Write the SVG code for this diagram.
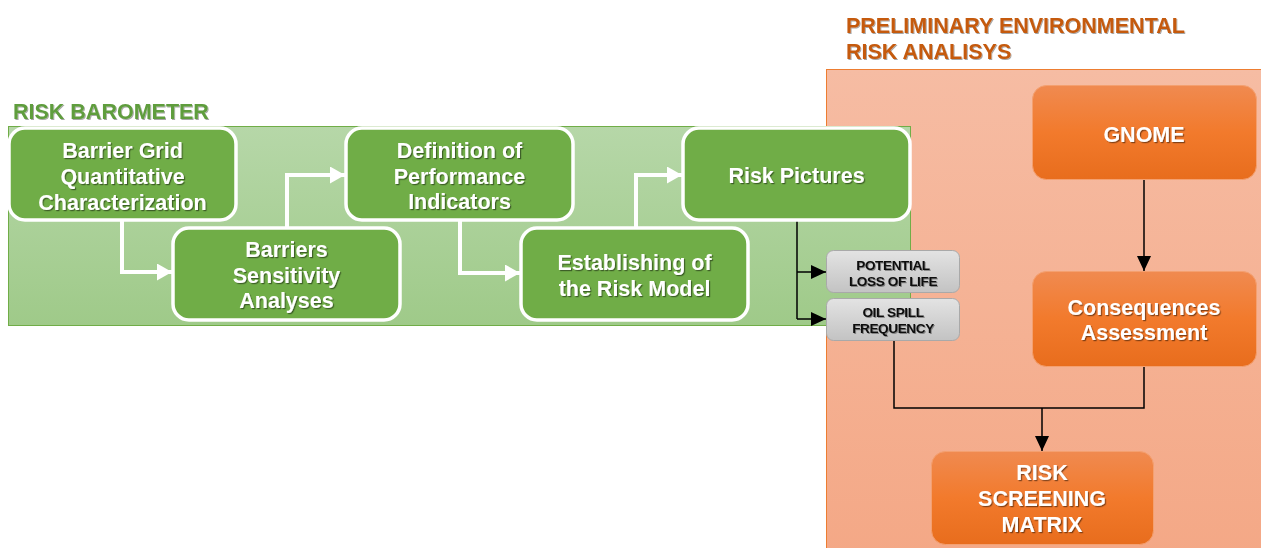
<svg xmlns="http://www.w3.org/2000/svg" width="1261" height="548" viewBox="0 0 1261 548">
<defs>
<linearGradient id="gOrangePanel" x1="0" y1="0" x2="0" y2="1"><stop offset="0" stop-color="#f6bca3"/><stop offset="1" stop-color="#f4a886"/></linearGradient>
<linearGradient id="gGreenPanel" x1="0" y1="0" x2="0" y2="1"><stop offset="0" stop-color="#b6d7a8"/><stop offset="1" stop-color="#9fca89"/></linearGradient>
<linearGradient id="gOrangeNode" x1="0" y1="0" x2="0" y2="1"><stop offset="0" stop-color="#f08a50"/><stop offset="0.5" stop-color="#f27a2c"/><stop offset="1" stop-color="#e86d1d"/></linearGradient>
<linearGradient id="gGray" x1="0" y1="0" x2="0" y2="1"><stop offset="0" stop-color="#e3e3e3"/><stop offset="1" stop-color="#c3c3c3"/></linearGradient>
<filter id="shadow" x="-10%" y="-30%" width="120%" height="160%"><feDropShadow dx="1.2" dy="1.2" stdDeviation="0.7" flood-color="#000" flood-opacity="0.45"/></filter>
<filter id="shadowLight" x="-10%" y="-30%" width="120%" height="160%"><feDropShadow dx="1" dy="1" stdDeviation="0.6" flood-color="#000" flood-opacity="0.35"/></filter>
<marker id="wArrow" markerWidth="15" markerHeight="17" refX="15" refY="8.5" orient="auto" markerUnits="userSpaceOnUse"><polygon points="0,0 15,8.5 0,17" fill="#ffffff"/></marker>
<marker id="kArrow" markerWidth="15" markerHeight="14" refX="15" refY="7" orient="auto" markerUnits="userSpaceOnUse"><polygon points="0,0 15,7 0,14" fill="#000000"/></marker>
</defs>
<style>
.title{font-family:"Liberation Sans",Arial,sans-serif;font-weight:bold;font-size:21.5px;}
.gnode rect{fill:#70ad47;stroke:#ffffff;stroke-width:3.5;}
.onode rect{fill:url(#gOrangeNode);stroke:#f4a070;stroke-width:1;}
.ynode rect{fill:url(#gGray);stroke:#a9a9a9;stroke-width:1;}
.nt{font-family:"Liberation Sans",Arial,sans-serif;font-weight:bold;font-size:21.5px;fill:#ffffff;text-anchor:middle;filter:url(#shadow);}
.st{font-family:"Liberation Sans",Arial,sans-serif;font-weight:bold;font-size:13.6px;fill:#111111;text-anchor:middle;letter-spacing:-0.4px;filter:url(#shadowLight);}
.wc{fill:none;stroke:#ffffff;stroke-width:4;marker-end:url(#wArrow);}
.kc{fill:none;stroke:#000000;stroke-width:1.5;}
</style>

<g id="panels">
<rect id="pera-panel" x="826.5" y="69.5" width="440" height="485" fill="url(#gOrangePanel)" stroke="#ed7d31" stroke-width="1"/>
<rect id="barometer-panel" x="8.5" y="126.5" width="902" height="199" fill="url(#gGreenPanel)" stroke="#70ad47" stroke-width="1"/>
</g>

<g id="titles">
<text class="title" x="13" y="119" fill="#5f9d3d" filter="url(#shadowLight)">RISK BAROMETER</text>
<text class="title" x="846" y="33" fill="#c55a11" filter="url(#shadowLight)">PRELIMINARY ENVIRONMENTAL</text>
<text class="title" x="846" y="59" fill="#c55a11" filter="url(#shadowLight)">RISK ANALISYS</text>
</g>

<g id="connectors">
<path class="wc" d="M122,221 V272 H172"/>
<path class="wc" d="M287,227 V175 H345"/>
<path class="wc" d="M460,221 V273 H520"/>
<path class="wc" d="M636,227 V175 H682"/>
<path class="kc" d="M797,221 V319"/>
<path class="kc" d="M797,272 H826" marker-end="url(#kArrow)"/>
<path class="kc" d="M797,319 H826" marker-end="url(#kArrow)"/>
<path class="kc" d="M1144,180 V271" marker-end="url(#kArrow)"/>
<path class="kc" d="M894,341 V408 H1144 V367"/>
<path class="kc" d="M1042,408 V451" marker-end="url(#kArrow)"/>
</g>

<g id="node-barrier-grid" class="gnode">
<rect x="9" y="128" width="227" height="92" rx="16"/>
<text class="nt" x="122.5" y="157.5">Barrier Grid</text>
<text class="nt" x="122.5" y="183.5">Quantitative</text>
<text class="nt" x="122.5" y="209.5">Characterization</text>
</g>
<g id="node-sensitivity" class="gnode">
<rect x="173" y="228" width="227" height="92" rx="16"/>
<text class="nt" x="286.5" y="256.5">Barriers</text>
<text class="nt" x="286.5" y="282.5">Sensitivity</text>
<text class="nt" x="286.5" y="308">Analyses</text>
</g>
<g id="node-performance" class="gnode">
<rect x="346" y="128" width="227" height="92" rx="16"/>
<text class="nt" x="459.5" y="157.5">Definition of</text>
<text class="nt" x="459.5" y="183.5">Performance</text>
<text class="nt" x="459.5" y="209">Indicators</text>
</g>
<g id="node-risk-model" class="gnode">
<rect x="521" y="228" width="227" height="92" rx="16"/>
<text class="nt" x="634.5" y="269.5">Establishing of</text>
<text class="nt" x="634.5" y="295.5">the Risk Model</text>
</g>
<g id="node-risk-pictures" class="gnode">
<rect x="683" y="128" width="227" height="92" rx="16"/>
<text class="nt" x="796.5" y="183">Risk Pictures</text>
</g>

<g id="node-loss-of-life" class="ynode">
<rect x="826.5" y="250.5" width="133" height="42" rx="7"/>
<text class="st" x="893" y="270">POTENTIAL</text>
<text class="st" x="893" y="286">LOSS OF LIFE</text>
</g>
<g id="node-oil-spill" class="ynode">
<rect x="826.5" y="298.5" width="133" height="42" rx="7"/>
<text class="st" x="893" y="317">OIL SPILL</text>
<text class="st" x="893" y="333">FREQUENCY</text>
</g>

<g id="node-gnome" class="onode">
<rect x="1032.5" y="85.5" width="224" height="94" rx="14"/>
<text class="nt" x="1144" y="141.5">GNOME</text>
</g>
<g id="node-consequences" class="onode">
<rect x="1032.5" y="271.5" width="224" height="95" rx="14"/>
<text class="nt" x="1144" y="314.5">Consequences</text>
<text class="nt" x="1144" y="340">Assessment</text>
</g>
<g id="node-matrix" class="onode">
<rect x="931.5" y="451.5" width="222" height="93" rx="14"/>
<text class="nt" x="1042" y="479.5">RISK</text>
<text class="nt" x="1042" y="505.5">SCREENING</text>
<text class="nt" x="1042" y="531.5">MATRIX</text>
</g>
</svg>
